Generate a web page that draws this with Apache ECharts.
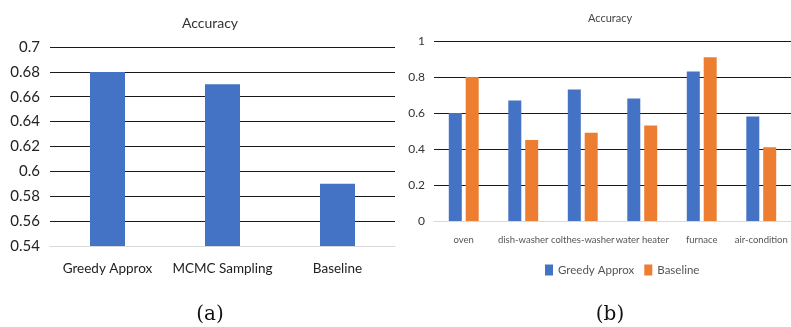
<!DOCTYPE html>
<html><head><meta charset="utf-8">
<script src="https://cdn.jsdelivr.net/npm/echarts@6/dist/echarts.min.js"></script>
<style>html,body{margin:0;padding:0;background:#fff}#c{width:791px;height:327px}</style>
</head><body><div id="c"></div>
<script>
const leftCategories = ["Greedy Approx", "MCMC Sampling", "Baseline"];
const leftValues = [0.68, 0.67, 0.59];
const rightCategories = ["oven", "dish-washer", "colthes-washer", "water heater", "furnace", "air-condition"];
const greedyValues = [0.60, 0.67, 0.73, 0.68, 0.83, 0.58];
const baselineValues = [0.80, 0.45, 0.49, 0.53, 0.91, 0.41];
const seriesNames = ["Greedy Approx", "Baseline"];
const captions = ["(a)", "(b)"];

const BLUE = "#4472C4", ORANGE = "#ED7D31";
const font = "Lato, Roboto, sans-serif";
const fmt = v => String(+v.toFixed(2));

const chart = echarts.init(document.getElementById('c'), null, {renderer: 'canvas'});
chart.setOption({
  animation: false,
  textStyle: {fontFamily: font},
  title: [
    {text: "Accuracy", left: 205, top: 11, textAlign: 'center',
     textStyle: {fontSize: 14, fontWeight: 'normal', color: '#333', fontFamily: font}},
    {text: "Accuracy", left: 605, top: 8, textAlign: 'center',
     textStyle: {fontSize: 11, fontWeight: 'normal', color: '#444', fontFamily: font}},
    {text: captions[0], left: 205, top: 300, textAlign: 'center',
     textStyle: {fontSize: 20, fontWeight: 'normal', color: '#111', fontFamily: "'DejaVu Serif', 'Liberation Serif', serif"}},
    {text: captions[1], left: 605, top: 300, textAlign: 'center',
     textStyle: {fontSize: 20, fontWeight: 'normal', color: '#111', fontFamily: "'DejaVu Serif', 'Liberation Serif', serif"}}
  ],
  legend: {
    data: seriesNames, left: 540, top: 259,
    itemWidth: 8, itemHeight: 11, itemGap: 10,
    textStyle: {fontSize: 11.5, color: '#555', fontFamily: font},
    icon: 'rect'
  },
  grid: [
    {left: 50, right: 396, top: 47, bottom: 81},
    {left: 434, right: -9, top: 41, bottom: 106}
  ],
  xAxis: [
    {gridIndex: 0, type: 'category', data: leftCategories,
     axisLine: {lineStyle: {color: '#d9d9d9'}}, axisTick: {show: false},
     axisLabel: {fontSize: 13.5, color: '#222', margin: 16, interval: 0, fontFamily: font}},
    {gridIndex: 1, type: 'category', data: rightCategories,
     axisLine: {lineStyle: {color: '#d9d9d9'}}, axisTick: {show: false},
     axisLabel: {fontSize: 9.5, color: '#555', margin: 14, interval: 0, fontFamily: font}}
  ],
  yAxis: [
    {gridIndex: 0, type: 'value', min: 0.54, max: 0.7, interval: 0.02,
     axisLine: {show: false}, axisTick: {show: false},
     axisLabel: {fontSize: 15, color: '#222', margin: 10, formatter: fmt, fontFamily: font},
     splitLine: {lineStyle: {color: '#1a1a1a', width: 1}}},
    {gridIndex: 1, type: 'value', min: 0, max: 1, interval: 0.2,
     axisLine: {show: false}, axisTick: {show: false},
     axisLabel: {fontSize: 12, color: '#333', margin: 9, formatter: fmt, fontFamily: font},
     splitLine: {lineStyle: {color: '#1a1a1a', width: 1}}}
  ],
  series: [
    {type: 'bar', xAxisIndex: 0, yAxisIndex: 0, data: leftValues, barWidth: 35,
     itemStyle: {color: BLUE}},
    {name: seriesNames[0], type: 'bar', xAxisIndex: 1, yAxisIndex: 1, data: greedyValues,
     barWidth: 13, barGap: '30%', itemStyle: {color: BLUE}},
    {name: seriesNames[1], type: 'bar', xAxisIndex: 1, yAxisIndex: 1, data: baselineValues,
     barWidth: 13, barGap: '30%', itemStyle: {color: ORANGE}}
  ]
});
</script></body></html>
